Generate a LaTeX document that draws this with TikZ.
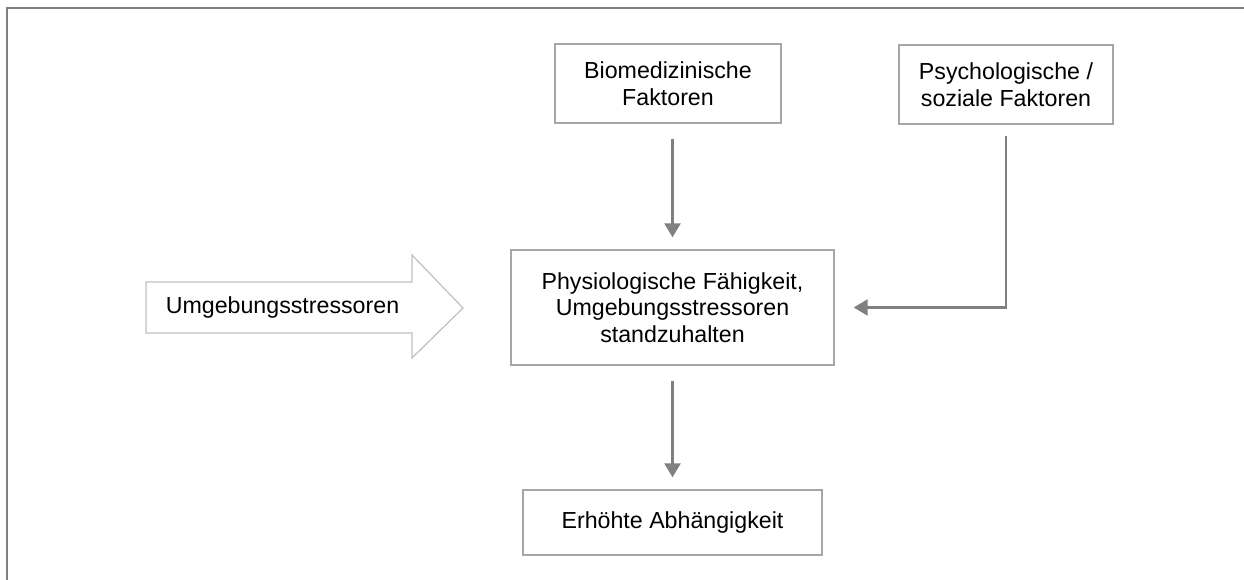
\documentclass[tikz,border=0pt]{standalone}
\usepackage{fontspec}
\setmainfont{Liberation Sans}
\usetikzlibrary{arrows.meta}
\definecolor{framegray}{HTML}{808080}
\definecolor{boxgray}{HTML}{A6A6A6}
\definecolor{arrgray}{HTML}{808080}
\definecolor{biggray}{HTML}{C0C0C0}
\begin{document}
\begin{tikzpicture}[x=1pt,y=-1pt,
  box/.style={draw=boxgray, line width=1.3pt, align=center, inner sep=0pt,
    font=\fontsize{23.2}{26.5}\selectfont},
  txt/.style={align=center, inner sep=0pt, font=\fontsize{23.2}{26.5}\selectfont},
  conn/.style={draw=arrgray, line width=2.5pt, -{Triangle[length=14pt,width=16pt]}},
  frame/.style={draw=framegray, line width=2.5pt},
  bigarrow/.style={draw=biggray, line width=1.2pt, fill=white}]
\useasboundingbox (0,0) rectangle (1244,580);
\draw[frame] (7,580) -- (7,8) -- (1244,8);

\node[box, minimum width=226pt, minimum height=79pt] (bio) at (668,83.5) {Biomedizinische\\Faktoren};
\node[box, minimum width=214pt, minimum height=79pt] (psy) at (1006,84.5) {Psychologische /\\soziale Faktoren};
\node[box, minimum width=323pt, minimum height=115pt] (cen) at (672.5,307.5) {Physiologische Fähigkeit,\\Umgebungsstressoren\\standzuhalten};
\node[box, minimum width=299pt, minimum height=65pt] (erh) at (672.5,522.5) {Erhöhte Abhängigkeit};

\draw[bigarrow] (146,282) -- (412,282) -- (412,255) -- (463,308) -- (412,358) -- (412,333) -- (146,333) -- cycle;
\node[txt] (env) at (282.5,308) {Umgebungsstressoren};

\draw[conn, shorten <=15pt, shorten >=12pt] (bio.south -| cen.north) -- (cen.north);
\draw[conn, shorten <=11pt, shorten >=19pt] (psy.south) |- (cen.east);
\draw[conn, shorten <=15pt, shorten >=12pt] (cen.south) -- (erh.north);
\end{tikzpicture}
\end{document}
